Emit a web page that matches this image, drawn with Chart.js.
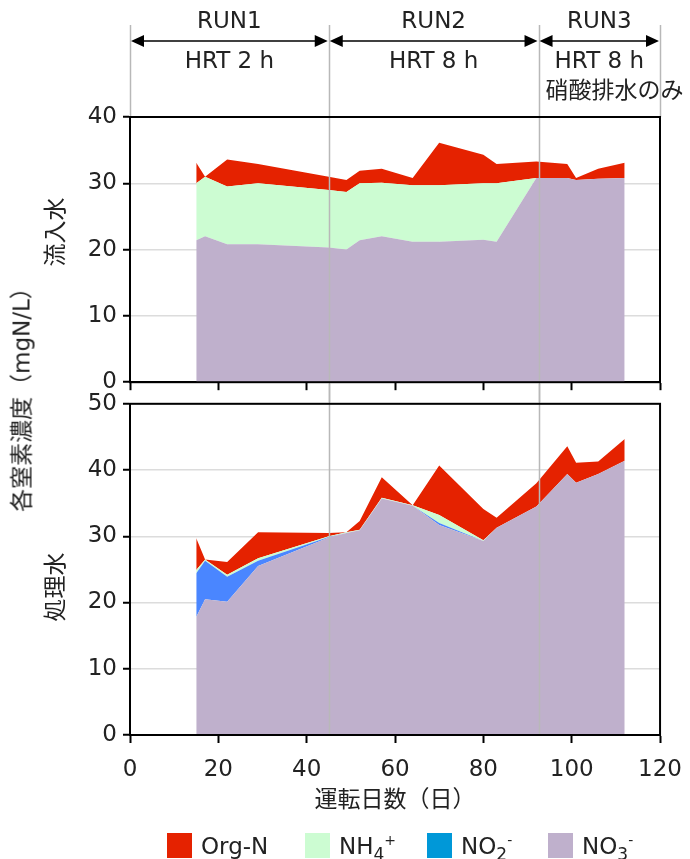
<!DOCTYPE html>
<html>
<head>
<meta charset="utf-8">
<title>各窒素濃度</title>
<style>
  body { margin: 0; background: #fff; font-family: "DejaVu Sans", "Noto Sans CJK JP", sans-serif; color: #222; }
  #wrap { position: relative; width: 690px; height: 859px; overflow: hidden; }
  canvas { position: absolute; left: 0; }
  .vlabel { position: absolute; transform: translate(-50%, -50%) rotate(-90deg); white-space: nowrap; font-size: 23px; line-height: 1; }
  .item { position: absolute; top: 833px; height: 25px; display: flex; align-items: center; font-size: 23px; white-space: nowrap; }
  .sw { width: 25px; height: 25px; margin-right: 9px; }
  sub { font-size: 17px; line-height: 0; }
  sup { font-size: 14px; line-height: 0; }
</style>
</head>
<body>
<div id="wrap">
  <canvas id="inChart" width="690" height="402" style="top:0"></canvas>
  <canvas id="outChart" width="695" height="475" style="top:384px"></canvas>

  <div class="vlabel" style="left:22px; top:394px">各窒素濃度（mgN/L）</div>
  <div class="vlabel" style="left:55px; top:232px">流入水</div>
  <div class="vlabel" style="left:55px; top:587px">処理水</div>

  <div class="item" style="left:167px"><div class="sw" style="background:#e52200"></div><span>Org-N</span></div>
  <div class="item" style="left:305px"><div class="sw" style="background:#ccfcd2"></div><span>NH<sub>4</sub><sup>+</sup></span></div>
  <div class="item" style="left:427px"><div class="sw" style="background:#0098d8"></div><span>NO<sub>2</sub><sup>-</sup></span></div>
  <div class="item" style="left:548px"><div class="sw" style="background:#bfb0cc"></div><span>NO<sub>3</sub><sup>-</sup></span></div>
</div>

<script src="https://cdn.jsdelivr.net/npm/chart.js@4.4.0/dist/chart.umd.min.js"></script>
<script>
// sampling days
const days = [15, 17, 22, 29, 45, 49, 52, 57, 64, 70, 80, 83, 92, 99, 101, 106, 112];

// influent (流入水), mgN/L per component
const inNO3  = [21.4, 22.0, 20.8, 20.8, 20.3, 20.0, 21.4, 22.0, 21.2, 21.2, 21.5, 21.2, 30.8, 30.8, 30.5, 30.7, 30.8];
const inNO2  = [0, 0, 0, 0, 0, 0, 0, 0, 0, 0, 0, 0, 0, 0, 0, 0, 0];
const inNH4  = [8.6, 9.0, 8.7, 9.2, 8.7, 8.7, 8.6, 8.1, 8.5, 8.5, 8.5, 8.8, 0, 0, 0, 0, 0];
const inOrgN = [3.1, 0, 4.1, 2.9, 2.0, 1.8, 1.9, 2.1, 1.1, 6.4, 4.3, 2.9, 2.5, 2.1, 0.3, 1.5, 2.3];

// effluent (処理水)
const outNO3  = [17.8, 20.5, 20.1, 25.5, 29.8, 30.5, 30.9, 35.7, 34.6, 31.7, 29.3, 31.3, 34.5, 39.4, 38.1, 39.4, 41.4];
const outNO2  = [6.6, 5.8, 3.8, 0.8, 0.1, 0, 0, 0, 0, 0.3, 0, 0, 0, 0, 0, 0, 0];
const outNH4  = [0.5, 0.2, 0.3, 0.4, 0.1, 0.1, 0.1, 0.1, 0.1, 1.2, 0.1, 0, 0, 0, 0, 0, 0];
const outOrgN = [4.8, 0, 1.9, 3.9, 0.5, 0, 1.3, 3.1, 0, 7.5, 4.7, 1.5, 3.5, 4.2, 3.0, 1.9, 3.3];

// run periods
const runEdges = [0, 45, 92.5, 120];
const runNames = ['RUN1', 'RUN2', 'RUN3'];
const runHrt = ['HRT 2 h', 'HRT 8 h', 'HRT 8 h'];

const xTicks = [0, 20, 40, 60, 80, 100, 120];

const FONT = '"DejaVu Sans", "Noto Sans CJK JP", sans-serif';
const colors = { no3: '#bfb0cc', no2: '#4a86ff', nh4: '#ccfcd2', org: '#e52200' };

function pts(arr) {
  return arr.map((v, i) => ({ x: days[i], y: v }));
}

function sets(no3, no2, nh4, org) {
  const base = { pointRadius: 0, borderWidth: 1, borderColor: 'rgba(0,0,0,0)', tension: 0 };
  return [
    Object.assign({ label: 'NO3-', data: pts(no3), backgroundColor: colors.no3, fill: 'origin' }, base),
    Object.assign({ label: 'NO2-', data: pts(no2), backgroundColor: colors.no2, fill: '-1' }, base),
    Object.assign({ label: 'NH4+', data: pts(nh4), backgroundColor: colors.nh4, fill: '-1' }, base),
    Object.assign({ label: 'Org-N', data: pts(org), backgroundColor: colors.org, fill: '-1' }, base)
  ];
}

// run dividers, header and closing box
const runPlugin = {
  id: 'runs',
  afterDatasetsDraw(chart, args, opts) {
    const { ctx, chartArea: a, scales: { x } } = chart;
    ctx.save();
    ctx.strokeStyle = '#b8b8b8';
    ctx.lineWidth = 1.5;
    runEdges.forEach((d, i) => {
      const px = Math.round(x.getPixelForValue(d)) + 0.5;
      const inner = i > 0 && i < runEdges.length - 1;
      ctx.beginPath();
      if (opts.top) {
        ctx.moveTo(px, 25);
        ctx.lineTo(px, inner ? chart.height : a.top);
      } else if (inner) {
        ctx.moveTo(px, 0);
        ctx.lineTo(px, a.bottom);
      }
      ctx.stroke();
    });
    ctx.strokeStyle = '#000';
    ctx.lineWidth = 2;
    ctx.strokeRect(a.left, a.top, a.right - a.left, a.bottom - a.top);

    if (opts.top) {
      ctx.fillStyle = '#222';
      ctx.strokeStyle = '#000';
      ctx.lineWidth = 1.5;
      ctx.font = '23px ' + FONT;
      ctx.textBaseline = 'middle';
      for (let i = 0; i < runNames.length; i++) {
        const x0 = x.getPixelForValue(runEdges[i]) + 1;
        const x1 = x.getPixelForValue(runEdges[i + 1]) - 1;
        const y = 41;
        ctx.beginPath();
        ctx.moveTo(x0 + 6, y);
        ctx.lineTo(x1 - 6, y);
        ctx.stroke();
        ctx.beginPath();
        ctx.moveTo(x0, y); ctx.lineTo(x0 + 13, y - 6); ctx.lineTo(x0 + 13, y + 6); ctx.closePath();
        ctx.moveTo(x1, y); ctx.lineTo(x1 - 13, y - 6); ctx.lineTo(x1 - 13, y + 6); ctx.closePath();
        ctx.fillStyle = '#000';
        ctx.fill();
        ctx.fillStyle = '#222';
        ctx.textAlign = 'center';
        const cx = (x0 + x1) / 2;
        ctx.fillText(runNames[i], cx, 22);
        ctx.fillText(runHrt[i], cx, 62);
      }
      ctx.textAlign = 'left';
      ctx.fillText('硝酸排水のみ', x.getPixelForValue(runEdges[2]) + 7, 92);
    }
    ctx.restore();
  }
};

function options(yMax, isTop) {
  return {
    responsive: false,
    animation: false,
    devicePixelRatio: 1,
    layout: { padding: { top: isTop ? 117 : 11, right: 30, bottom: isTop ? 0 : 44, left: 0 } },
    plugins: { legend: { display: false }, tooltip: { enabled: false }, runs: { top: isTop } },
    scales: {
      x: {
        type: 'linear', min: 0, max: 120,
        afterBuildTicks: s => { s.ticks = xTicks.map(v => ({ value: v })); },
        afterFit: s => { s.height = isTop ? 10 : 80; },
        grid: { color: 'rgba(0,0,0,0)', tickColor: '#000', tickLength: 8, tickWidth: 2 },
        border: { display: true, color: '#000', width: 2 },
        ticks: { display: !isTop, padding: 13, color: '#222', font: { family: FONT, size: 23 } },
        title: { display: !isTop, text: '運転日数（日）', padding: 0, color: '#222', font: { family: FONT, size: 23 } }
      },
      y: {
        stacked: true, min: 0, max: yMax,
        ticks: { stepSize: 10, padding: 6, color: '#222', font: { family: FONT, size: 23 } },
        afterFit: s => { s.width = 130; },
        grid: { color: '#dcdcdc', lineWidth: 1.5, tickColor: '#000', tickLength: 7, tickWidth: 2 },
        border: { display: true, color: '#000', width: 2 }
      }
    }
  };
}

new Chart(document.getElementById('inChart'), {
  type: 'line',
  data: { datasets: sets(inNO3, inNO2, inNH4, inOrgN) },
  options: options(40, true),
  plugins: [runPlugin]
});

new Chart(document.getElementById('outChart'), {
  type: 'line',
  data: { datasets: sets(outNO3, outNO2, outNH4, outOrgN) },
  options: options(50, false),
  plugins: [runPlugin]
});
</script>
</body>
</html>
